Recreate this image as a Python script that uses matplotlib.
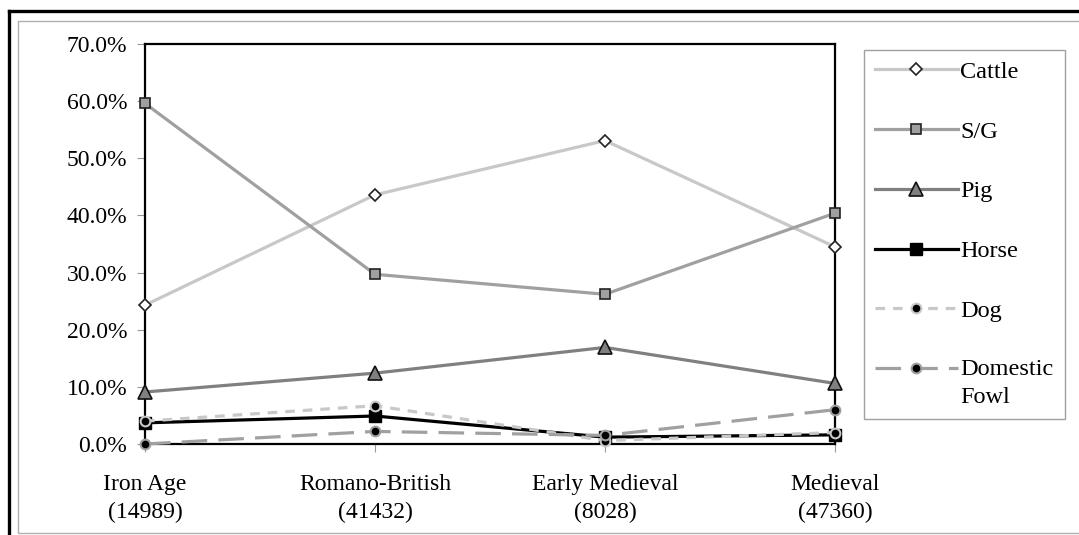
"""Share of livestock species by period, redrawn as a line chart."""
import matplotlib
matplotlib.use("Agg")
import matplotlib.pyplot as plt
from matplotlib.legend_handler import HandlerLine2D
from matplotlib.lines import Line2D
from matplotlib.patches import Rectangle
from matplotlib.ticker import FuncFormatter

periods = ["Iron Age\n(14989)", "Romano-British\n(41432)", "Early Medieval\n(8028)", "Medieval\n(47360)"]
cattle = [24.3, 43.6, 53.1, 34.5]
sheep_goat = [59.6, 29.7, 26.2, 40.4]
pig = [9.1, 12.4, 16.9, 10.6]
horse = [3.7, 4.9, 1.2, 1.6]
dog = [4.0, 6.7, 0.6, 2.0]
fowl = [0.0, 2.2, 1.5, 6.0]


class RaisedHandler(HandlerLine2D):
    """Legend handle lifted onto the first line of a two-line label."""

    def __init__(self, shift, **kw):
        super().__init__(**kw)
        self.shift = shift

    def create_artists(self, legend, orig_handle, xdescent, ydescent, width, height, fontsize, trans):
        artists = super().create_artists(legend, orig_handle, xdescent, ydescent, width, height, fontsize, trans)
        for a in artists:
            a.set_ydata([y + self.shift for y in a.get_ydata()])
        return artists


plt.rcParams["font.family"] = ["Liberation Serif", "DejaVu Serif"]

fig = plt.figure(figsize=(10.79, 5.35), dpi=100)
ax = fig.add_axes([145 / 1079, 1 - 444 / 535, 690 / 1079, 400 / 535])

x = range(len(periods))
lw = 2.3
ax.plot(x, cattle, color="#c8c8c8", lw=lw, marker="D", ms=6.5, mfc="white", mec="#222222", mew=1.2, label="Cattle", zorder=3)
ax.plot(x, sheep_goat, color="#a0a0a0", lw=lw, marker="s", ms=7.5, mfc="#a0a0a0", mec="#222222", mew=1.2, label="S/G", zorder=3)
ax.plot(x, pig, color="#808080", lw=lw, marker="^", ms=9.5, mfc="#808080", mec="#111111", mew=1.2, label="Pig", zorder=3)
ax.plot(x, horse, color="black", lw=lw, marker="s", ms=8.5, mfc="black", mec="black", label="Horse", zorder=4)
ax.plot(x, dog, color="#c8c8c8", lw=lw, ls=(0, (3, 2.5)), marker="o", ms=7, mfc="black", mec="#c8c8c8", mew=1.5, label="Dog", zorder=5)
fowl_line, = ax.plot(x, fowl, color="#a0a0a0", lw=lw, ls=(0, (8, 3.5)), marker="o", ms=7, mfc="black", mec="#a0a0a0", mew=1.5, label="Domestic\nFowl", zorder=5)

ax.set_xlim(0, 3)
ax.set_ylim(0, 70)
ax.set_yticks(range(0, 71, 10))
ax.yaxis.set_major_formatter(FuncFormatter(lambda v, _: f"{v:.1f}%"))
ax.set_xticks(list(x))
ax.set_xticklabels(periods, linespacing=1.4)
ax.tick_params(axis="both", direction="out", length=5.8, width=0.8, color="#999999", labelsize=17)
ax.tick_params(axis="y", pad=7)
ax.tick_params(axis="x", pad=16)
for spine in ax.spines.values():
    spine.set_linewidth(1.6)
    spine.set_color("black")
for line in ax.lines:
    line.set_clip_on(False)

leg = fig.legend(loc="upper left", bbox_to_anchor=(864 / 1079, 1 - 50 / 535), fontsize=17.5,
                 frameon=True, fancybox=False, edgecolor="#a0a0a0", framealpha=1,
                 handlelength=3.4, handletextpad=0.12, labelspacing=1.55, borderpad=0.45,
                 borderaxespad=0, handler_map={fowl_line: RaisedHandler(11)})
leg.get_frame().set_linewidth(1.0)
leg.get_texts()[-1].set_linespacing(1.4)

# outer chart frame
fig.add_artist(Rectangle((18 / 1079, 0.004), 1.1, 1 - 21 / 535 - 0.004, transform=fig.transFigure,
                         fill=False, edgecolor="#b0b0b0", lw=1.0))
fig.add_artist(Line2D([9 / 1079, 1078 / 1079], [1 - 11 / 535] * 2, transform=fig.transFigure, color="black", lw=2.4))
fig.add_artist(Line2D([9 / 1079] * 2, [0, 1 - 11 / 535], transform=fig.transFigure, color="black", lw=2.4))

fig.savefig("out.png", dpi=100)
